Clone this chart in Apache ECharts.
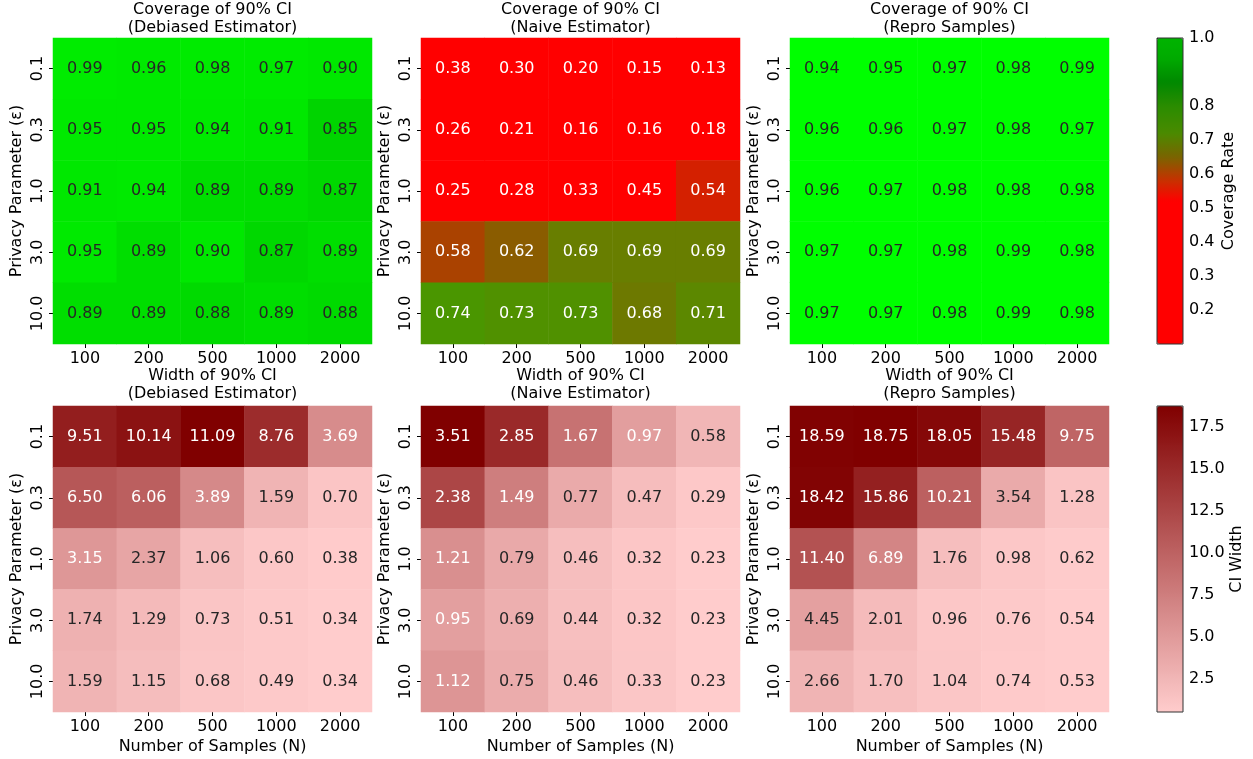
<!DOCTYPE html>
<html>
<head>
<meta charset="utf-8">
<script src="https://cdn.jsdelivr.net/npm/echarts@6/dist/echarts.min.js"></script>
<style>
  html, body { margin: 0; padding: 0; background: #fff; }
  #chart { width: 1253px; height: 759px; }
</style>
</head>
<body>
<div id="chart"></div>
<script>
// categories
const sampleSizes = ['100', '200', '500', '1000', '2000']
const epsilons = ['0.1', '0.3', '1.0', '3.0', '10.0']

// coverage of 90% CI (rows = epsilon, cols = N)
const covDebiased = [
  [0.99, 0.96, 0.98, 0.97, 0.90],
  [0.95, 0.95, 0.94, 0.91, 0.85],
  [0.91, 0.94, 0.89, 0.89, 0.87],
  [0.95, 0.89, 0.90, 0.87, 0.89],
  [0.89, 0.89, 0.88, 0.89, 0.88]
]
const covNaive = [
  [0.38, 0.30, 0.20, 0.15, 0.13],
  [0.26, 0.21, 0.16, 0.16, 0.18],
  [0.25, 0.28, 0.33, 0.45, 0.54],
  [0.58, 0.62, 0.69, 0.69, 0.69],
  [0.74, 0.73, 0.73, 0.68, 0.71]
]
const covRepro = [
  [0.94, 0.95, 0.97, 0.98, 0.99],
  [0.96, 0.96, 0.97, 0.98, 0.97],
  [0.96, 0.97, 0.98, 0.98, 0.98],
  [0.97, 0.97, 0.98, 0.99, 0.98],
  [0.97, 0.97, 0.98, 0.99, 0.98]
]

// width of 90% CI
const widDebiased = [
  [9.51, 10.14, 11.09, 8.76, 3.69],
  [6.50, 6.06, 3.89, 1.59, 0.70],
  [3.15, 2.37, 1.06, 0.60, 0.38],
  [1.74, 1.29, 0.73, 0.51, 0.34],
  [1.59, 1.15, 0.68, 0.49, 0.34]
]
const widNaive = [
  [3.51, 2.85, 1.67, 0.97, 0.58],
  [2.38, 1.49, 0.77, 0.47, 0.29],
  [1.21, 0.79, 0.46, 0.32, 0.23],
  [0.95, 0.69, 0.44, 0.32, 0.23],
  [1.12, 0.75, 0.46, 0.33, 0.23]
]
const widRepro = [
  [18.59, 18.75, 18.05, 15.48, 9.75],
  [18.42, 15.86, 10.21, 3.54, 1.28],
  [11.40, 6.89, 1.76, 0.98, 0.62],
  [4.45, 2.01, 0.96, 0.76, 0.54],
  [2.66, 1.70, 1.04, 0.74, 0.53]
]

// colorbar tick labels
const covTicks = [0.2, 0.3, 0.4, 0.5, 0.6, 0.7, 0.8, 1.0]
const widTicks = [2.5, 5.0, 7.5, 10.0, 12.5, 15.0, 17.5]

const FONT = 'DejaVu Sans'

// colour stops
const covStops = [[0.10, [255, 0, 0]], [0.48, [255, 0, 0]], [0.54, [212, 32, 0]], [0.58, [170, 66, 0]],
  [0.62, [138, 92, 0]], [0.69, [104, 126, 0]], [0.74, [74, 150, 0]], [0.85, [0, 212, 0]],
  [0.88, [0, 218, 0]], [0.895, [0, 224, 0]], [0.90, [0, 232, 0]], [1.0, [0, 236, 0]]]
const limeStops = [[0.10, [0, 255, 0]], [1.0, [0, 255, 0]]]
const covBarStops = [[0.10, [255, 0, 0]], [0.52, [255, 0, 0]], [0.58, [200, 48, 0]], [0.65, [122, 100, 0]],
  [0.72, [74, 138, 0]], [0.80, [42, 140, 0]], [0.87, [0, 136, 0]], [0.94, [0, 170, 0]], [1.0, [0, 180, 0]]]
const pinkLo = [255, 204, 204]
const redHi = [128, 0, 0]

function interp (stops, v) {
  if (v <= stops[0][0]) return stops[0][1]
  for (let i = 1; i < stops.length; i++) {
    if (v <= stops[i][0]) {
      const [a, ca] = stops[i - 1]
      const [b, cb] = stops[i]
      const t = (v - a) / (b - a)
      return ca.map((c, k) => Math.round(c + (cb[k] - c) * t))
    }
  }
  return stops[stops.length - 1][1]
}
const toHex = (c) => '#' + c.map(x => x.toString(16).padStart(2, '0')).join('')
function sample (stops, min, max, n) {
  const out = []
  for (let i = 0; i < n; i++) out.push(toHex(interp(stops, min + (max - min) * i / (n - 1))))
  return out
}
function lum (c) {
  const l = c.map(x => {
    x = x / 255
    return x <= 0.03928 ? x / 12.92 : Math.pow((x + 0.055) / 1.055, 2.4)
  })
  return 0.2126 * l[0] + 0.7152 * l[1] + 0.0722 * l[2]
}

const chart = echarts.init(document.getElementById('chart'))

const cols = [53, 421, 790]
const rows = [38, 406]
const W = 319
const H = 306

const panels = [
  { title: 'Coverage of 90% CI\n(Debiased Estimator)', data: covDebiased, row: 0, col: 0, type: 'cov', stops: covStops },
  { title: 'Coverage of 90% CI\n(Naive Estimator)', data: covNaive, row: 0, col: 1, type: 'cov', stops: covStops },
  { title: 'Coverage of 90% CI\n(Repro Samples)', data: covRepro, row: 0, col: 2, type: 'cov', stops: limeStops },
  { title: 'Width of 90% CI\n(Debiased Estimator)', data: widDebiased, row: 1, col: 0, type: 'wid' },
  { title: 'Width of 90% CI\n(Naive Estimator)', data: widNaive, row: 1, col: 1, type: 'wid' },
  { title: 'Width of 90% CI\n(Repro Samples)', data: widRepro, row: 1, col: 2, type: 'wid' }
]

const grid = []
const xAxis = []
const yAxis = []
const series = []
const visualMap = []
const title = []

panels.forEach((p, i) => {
  grid.push({ left: cols[p.col], top: rows[p.row], width: W, height: H })
  title.push({
    text: p.title,
    left: cols[p.col] + W / 2,
    top: p.row === 0 ? 1 : 367,
    textAlign: 'center',
    padding: 0,
    textStyle: { fontFamily: FONT, fontSize: 16, fontWeight: 'normal', color: '#000', lineHeight: 18 }
  })
  xAxis.push({
    type: 'category',
    gridIndex: i,
    data: sampleSizes,
    axisLine: { show: false },
    axisTick: { show: true, alignWithLabel: true, length: 4, lineStyle: { color: '#000' } },
    axisLabel: { fontFamily: FONT, fontSize: 16, color: '#000', margin: 7 },
    splitLine: { show: false },
    name: p.row === 1 ? 'Number of Samples (N)' : '',
    nameLocation: 'middle',
    nameGap: 27,
    nameTextStyle: { fontFamily: FONT, fontSize: 16, color: '#000' }
  })
  yAxis.push({
    type: 'category',
    gridIndex: i,
    data: epsilons,
    inverse: true,
    axisLine: { show: false },
    axisTick: { show: true, alignWithLabel: true, length: 4, lineStyle: { color: '#000' } },
    axisLabel: { fontFamily: FONT, fontSize: 16, color: '#000', rotate: 90, margin: 7 },
    splitLine: { show: false },
    name: 'Privacy Parameter (ε)',
    nameLocation: 'middle',
    nameRotate: 90,
    nameGap: 28,
    nameTextStyle: { fontFamily: FONT, fontSize: 16, color: '#000' }
  })

  const flat = p.data.flat()
  let min, max, colorOf, thr
  if (p.type === 'cov') {
    min = 0.1
    max = 1.0
    colorOf = (v) => interp(p.stops, v)
    thr = 0.408
  } else {
    min = Math.min(...flat)
    max = Math.max(...flat)
    colorOf = (v) => interp([[min, pinkLo], [max, redHi]], v)
    thr = 0.438
  }
  const inColors = p.type === 'cov'
    ? sample(p.stops, min, max, 181)
    : [toHex(pinkLo), toHex(redHi)]

  const items = []
  p.data.forEach((r, yi) => {
    r.forEach((v, xi) => {
      items.push({
        value: [xi, yi, v],
        label: { color: lum(colorOf(v)) > thr ? '#262626' : '#ffffff' }
      })
    })
  })

  const isBar = i === 5
  visualMap.push({
    type: 'continuous',
    seriesIndex: i,
    dimension: 2,
    min: min,
    max: max,
    calculable: false,
    show: isBar,
    orient: 'vertical',
    left: 1157,
    top: 406,
    padding: 0,
    itemWidth: 26,
    itemHeight: 306,
    inRange: { color: inColors }
  })

  series.push({
    type: 'heatmap',
    xAxisIndex: i,
    yAxisIndex: i,
    data: items,
    label: {
      show: true,
      fontFamily: FONT,
      fontSize: 16,
      formatter: (q) => q.value[2].toFixed(2)
    },
    emphasis: { disabled: true }
  })
})

// colour bars
const bars = [
  { top: 38, min: 0.1, max: 1.0, ticks: covTicks, name: 'Coverage Rate' },
  { top: 406, min: Math.min(...widRepro.flat()), max: Math.max(...widRepro.flat()), ticks: widTicks, name: 'CI Width' }
]
bars.forEach((b, k) => {
  const gi = 6 + k
  grid.push({ left: 1157, top: b.top, width: 26, height: 306, show: true, borderColor: '#333', borderWidth: 1, backgroundColor: 'transparent', z: 10 })
  xAxis.push({ type: 'value', gridIndex: gi, show: false, min: 0, max: 1 })
  yAxis.push({
    type: 'value',
    gridIndex: gi,
    position: 'right',
    min: b.min,
    max: b.max,
    axisLine: { show: false },
    splitLine: { show: false },
    axisTick: { show: true, length: 4, customValues: b.ticks, lineStyle: { color: '#000' } },
    axisLabel: { customValues: b.ticks, fontFamily: FONT, fontSize: 16, color: '#000', margin: 6, formatter: (v) => v.toFixed(1) },
    name: b.name,
    nameLocation: 'middle',
    nameRotate: 90,
    nameGap: 38,
    nameTextStyle: { fontFamily: FONT, fontSize: 16, color: '#000' }
  })
})

// dummy series that the coverage colour bar points to
series.push({ type: 'line', xAxisIndex: 6, yAxisIndex: 6, data: [], silent: true })
visualMap.push({
  type: 'continuous',
  seriesIndex: 6,
  min: 0.1,
  max: 1.0,
  calculable: false,
  show: true,
  orient: 'vertical',
  left: 1157,
  top: 38,
  padding: 0,
  itemWidth: 26,
  itemHeight: 306,
  inRange: { color: sample(covBarStops, 0.1, 1.0, 91) }
})

chart.setOption({
  backgroundColor: '#fff',
  animation: false,
  title: title,
  grid: grid,
  xAxis: xAxis,
  yAxis: yAxis,
  visualMap: visualMap,
  series: series
})
</script>
</body>
</html>
